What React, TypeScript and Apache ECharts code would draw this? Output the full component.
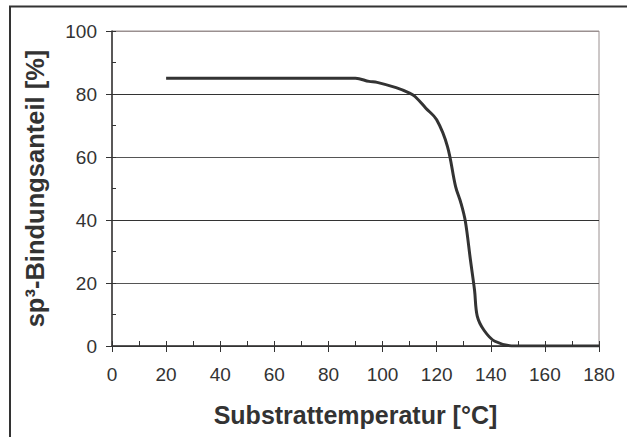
import React, { useEffect, useRef } from "react";
import * as echarts from "echarts";

// Substrate temperature [°C]
const temperatures: number[] = [20, 90, 95, 98, 105, 110, 112, 116, 120, 124, 127, 129, 130.6, 132.5, 134, 135, 137.5, 141.5, 149, 180];
// sp3 bond fraction [%]
const sp3Fraction: number[] = [85, 85, 84, 83.7, 82, 80.3, 79.2, 75.5, 71.8, 63.3, 50.6, 45.3, 39.6, 27.2, 17.7, 9.5, 5, 1.5, 0, 0];

const xTitle = "Substrattemperatur [°C]";
const yTitle = "sp³-Bindungsanteil [%]";

const FONT = "'Liberation Sans', Arial, Helvetica, sans-serif";

export default function App() {
  const ref = useRef<HTMLDivElement>(null);

  useEffect(() => {
    if (!ref.current) return;
    const chart = echarts.init(ref.current, undefined, { renderer: "svg" });
    const data = temperatures.map((t, i) => [t, sp3Fraction[i]]);
    chart.setOption({
      animation: false,
      backgroundColor: "#ffffff",
      graphic: [
        {
          type: "rect",
          shape: { x: 10, y: 6.5, width: 700, height: 500 },
          style: { fill: "none", stroke: "#333333", lineWidth: 2 },
          silent: true,
          z: 100,
        },
      ],
      grid: {
        left: 112,
        right: 28,
        top: 31,
        bottom: 91,
        show: true,
        borderColor: "#9a9090",
        borderWidth: 1,
        backgroundColor: "#ffffff",
      },
      xAxis: [
        {
          type: "value",
          min: 0,
          max: 180,
          interval: 20,
          position: "bottom",
          name: xTitle,
          nameLocation: "middle",
          nameGap: 56,
          nameTextStyle: { fontFamily: FONT, fontSize: 25, fontWeight: "bold", color: "#333333" },
          axisLine: { show: true, onZero: false, lineStyle: { color: "#333333", width: 1.5 } },
          axisTick: { show: true, inside: false, length: 6, lineStyle: { color: "#333333", width: 1 } },
          minorTick: { show: false },
          axisLabel: { fontFamily: FONT, fontSize: 19, color: "#333333", margin: 19 },
          splitLine: { show: false },
        },
        {
          type: "value",
          min: 0,
          max: 180,
          interval: 20,
          position: "bottom",
          axisLine: { show: false, onZero: false },
          axisTick: { show: true, inside: true, length: 5, lineStyle: { color: "#333333", width: 1 } },
          minorTick: { show: true, splitNumber: 2, length: 5, lineStyle: { color: "#333333", width: 1 } },
          axisLabel: { show: false },
          splitLine: { show: false },
        },
      ],
      yAxis: [
        {
          type: "value",
          min: 0,
          max: 100,
          interval: 20,
          position: "left",
          name: yTitle,
          nameLocation: "middle",
          nameGap: 64,
          nameRotate: 90,
          nameTextStyle: { fontFamily: FONT, fontSize: 25.5, fontWeight: "bold", color: "#333333" },
          axisLine: { show: true, onZero: false, lineStyle: { color: "#333333", width: 1.5 } },
          axisTick: { show: true, inside: false, length: 6, lineStyle: { color: "#333333", width: 1 } },
          axisLabel: { fontFamily: FONT, fontSize: 19, color: "#333333", margin: 15 },
          splitLine: {
            show: true,
            lineStyle: {
              color: ["#333333", "#555555", "#333333", "#555555", "#333333", "#9a9090"],
              width: 1,
            },
          },
        },
        {
          type: "value",
          min: 0,
          max: 100,
          interval: 20,
          position: "left",
          axisLine: { show: false, onZero: false },
          axisTick: { show: true, inside: true, length: 4, lineStyle: { color: "#333333", width: 1 } },
          minorTick: { show: true, splitNumber: 2, length: 4, lineStyle: { color: "#333333", width: 1 } },
          axisLabel: { show: false },
          splitLine: { show: false },
        },
      ],
      series: [
        {
          type: "line",
          xAxisIndex: 0,
          yAxisIndex: 0,
          data,
          smooth: 0.35,
          showSymbol: false,
          symbol: "none",
          lineStyle: { color: "#333333", width: 3 },
          z: 10,
        },
      ],
    });
    return () => chart.dispose();
  }, []);

  return (
    <div
      ref={ref}
      style={{ position: "fixed", left: 0, top: 0, width: 627, height: 437, background: "#ffffff" }}
    />
  );
}
